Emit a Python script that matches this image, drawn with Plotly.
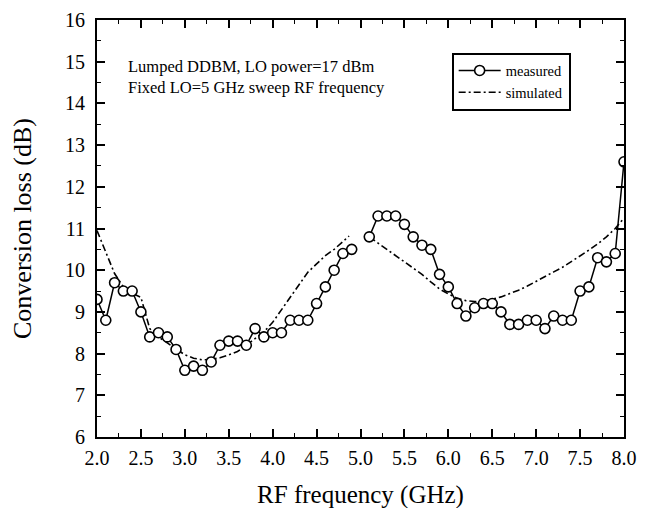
import plotly.graph_objects as go

meas_x = [2.0, 2.1, 2.2, 2.3, 2.4, 2.5, 2.6, 2.7, 2.8, 2.9,
          3.0, 3.1, 3.2, 3.3, 3.4, 3.5, 3.6, 3.7, 3.8, 3.9,
          4.0, 4.1, 4.2, 4.3, 4.4, 4.5, 4.6, 4.7, 4.8, 4.9,
          None,
          5.1, 5.2, 5.3, 5.4, 5.5, 5.6, 5.7, 5.8, 5.9,
          6.0, 6.1, 6.2, 6.3, 6.4, 6.5, 6.6, 6.7, 6.8, 6.9,
          7.0, 7.1, 7.2, 7.3, 7.4, 7.5, 7.6, 7.7, 7.8, 7.9, 8.0]
meas_y = [9.3, 8.8, 9.7, 9.5, 9.5, 9.0, 8.4, 8.5, 8.4, 8.1,
          7.6, 7.7, 7.6, 7.8, 8.2, 8.3, 8.3, 8.2, 8.6, 8.4,
          8.5, 8.5, 8.8, 8.8, 8.8, 9.2, 9.6, 10.0, 10.4, 10.5,
          None,
          10.8, 11.3, 11.3, 11.3, 11.1, 10.8, 10.6, 10.5, 9.9,
          9.6, 9.2, 8.9, 9.1, 9.2, 9.2, 9.0, 8.7, 8.7, 8.8,
          8.8, 8.6, 8.9, 8.8, 8.8, 9.5, 9.6, 10.3, 10.2, 10.4, 12.6]

sim_x = [2.0, 2.1, 2.2, 2.3, 2.4, 2.5, 2.55, 2.6, 2.7, 2.8, 2.9,
         3.0, 3.1, 3.2, 3.3, 3.4, 3.5, 3.6, 3.7, 3.8, 3.9,
         4.0, 4.1, 4.2, 4.3, 4.4, 4.5, 4.6, 4.7, 4.8, 4.87,
         None,
         5.1, 5.2, 5.3, 5.4, 5.5, 5.6, 5.7, 5.8, 5.9,
         6.0, 6.1, 6.2, 6.3, 6.4, 6.5, 6.6, 6.7, 6.8, 6.9,
         7.0, 7.1, 7.2, 7.3, 7.4, 7.5, 7.6, 7.7, 7.8, 7.9, 8.0]
sim_y = [10.95, 10.43, 9.92, 9.6, 9.45, 9.35, 9.0, 8.6, 8.4, 8.25, 8.1,
         7.97, 7.89, 7.85, 7.86, 7.9, 7.97, 8.05, 8.2, 8.35, 8.52,
         8.75, 9.05, 9.38, 9.68, 9.95, 10.15, 10.35, 10.5, 10.68, 10.82,
         None,
         10.8, 10.65, 10.5, 10.35, 10.2, 10.05, 9.9, 9.72, 9.55,
         9.43, 9.33, 9.27, 9.25, 9.25, 9.3, 9.36, 9.44, 9.52, 9.62,
         9.74, 9.85, 9.96, 10.07, 10.2, 10.33, 10.48, 10.63, 10.8, 11.0, 11.25]

x_ticks = [2.0, 2.5, 3.0, 3.5, 4.0, 4.5, 5.0, 5.5, 6.0, 6.5, 7.0, 7.5, 8.0]
x_labels = ["%.1f" % v for v in x_ticks]
y_ticks = list(range(6, 17))

font_family = "Liberation Serif"

fig = go.Figure()
fig.add_trace(go.Scatter(
    x=sim_x, y=sim_y, mode="lines", name="simulated",
    line=dict(color="black", width=1.6, dash="7px,3px,2px,3px"),
    connectgaps=False,
))
fig.add_trace(go.Scatter(
    x=meas_x, y=meas_y, mode="lines+markers", name="measured",
    line=dict(color="black", width=1.5),
    marker=dict(symbol="circle", size=10, color="white",
                line=dict(color="black", width=1.6)),
    connectgaps=False,
))

axis_common = dict(
    showline=True, linecolor="black", linewidth=2, mirror="ticks",
    ticks="inside", ticklen=8, tickwidth=1.5, tickcolor="black",
    showgrid=False, zeroline=False, automargin=False,
    ticklabeloverflow="allow",
    tickfont=dict(family=font_family, size=20, color="black"),
)

fig.update_xaxes(
    range=[2.0, 8.0], tickvals=x_ticks, ticktext=x_labels,
    minor=dict(dtick=0.25, tick0=2.0, ticks="inside", ticklen=4,
               tickwidth=1.2, tickcolor="black"),
    title=dict(text="RF frequency (GHz)",
               font=dict(family=font_family, size=25, color="black"),
               standoff=17),
    ticklabelstandoff=2,
    **axis_common,
)
fig.update_yaxes(
    range=[6, 16], tickvals=y_ticks,
    minor=dict(dtick=0.5, tick0=6, ticks="inside", ticklen=4,
               tickwidth=1.2, tickcolor="black"),
    title=dict(text="Conversion loss (dB)",
               font=dict(family=font_family, size=26, color="black"),
               standoff=30),
    ticklabelstandoff=6,
    **axis_common,
)

fig.add_annotation(xref="paper", yref="paper", x=0.055, y=0.888,
                   xanchor="left", yanchor="middle", showarrow=False,
                   text="Lumped DDBM, LO power=17 dBm",
                   font=dict(family=font_family, size=16.5, color="black"))
fig.add_annotation(xref="paper", yref="paper", x=0.055, y=0.838,
                   xanchor="left", yanchor="middle", showarrow=False,
                   text="Fixed LO=5 GHz sweep RF frequency",
                   font=dict(family=font_family, size=16.5, color="black"))

fig.update_layout(
    width=649, height=508,
    margin=dict(l=89, r=33, t=12, b=79),
    paper_bgcolor="white", plot_bgcolor="white",
    showlegend=True,
    legend=dict(x=0.673, y=0.922, xanchor="left", yanchor="top",
                bordercolor="black", borderwidth=2, bgcolor="white",
                traceorder="reversed",
                font=dict(family=font_family, size=14.5, color="black"),
                itemwidth=42, tracegroupgap=0),
)

fig.write_html("out.html")
